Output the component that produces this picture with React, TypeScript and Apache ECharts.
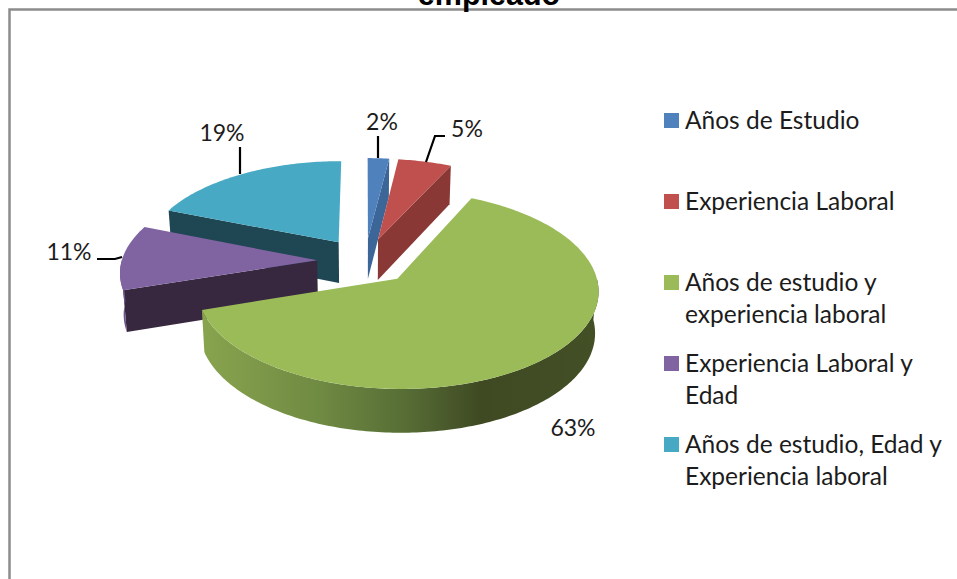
import React, { useEffect, useRef } from "react";
import * as echarts from "echarts";

const chartTitle = "empleado";
const categories = [
  "Años de Estudio",
  "Experiencia Laboral",
  "Años de estudio y experiencia laboral",
  "Experiencia Laboral y Edad",
  "Años de estudio, Edad y Experiencia laboral",
];
const legendLines = [
  " \nAños de Estudio\n ",
  " \nExperiencia Laboral\n ",
  " \nAños de estudio y\nexperiencia laboral",
  " \nExperiencia Laboral y\nEdad",
  " \nAños de estudio, Edad y\nExperiencia laboral",
];
const percentages = [2, 5, 63, 11, 19];

const topColors = ["#4F81BD", "#C0504D", "#9BBB59", "#8064A2", "#48A9C4"];
const sideColors = ["#3C6598", "#8A3836", "#3F4A23", "#372840", "#1F4653"];
const drawOrder = [2, 3, 6, 5, 1]; // z per slice: back to front

const FONT = "Lato";
const CX = 365, CY = 261, RX = 195.5, RY = 94, PERSP = 0.11, DEPTH = 41, EXPLODE = 0.245, FLOOR_SCALE = 0.985;

// label centre + leader polyline for each slice
const labelLayout: { x: number; y: number; line: number[][] | null }[] = [
  { x: 382, y: 121, line: [[378, 136], [378, 158]] },
  { x: 467, y: 128, line: [[445, 136], [435, 136], [426, 162]] },
  { x: 573, y: 427, line: null },
  { x: 69, y: 251, line: [[97, 259], [115, 259], [122, 257]] },
  { x: 222, y: 132, line: [[240, 147], [240, 174]] },
];

const total = percentages.reduce((a, b) => a + b, 0);
const rad = (d: number) => (d * Math.PI) / 180;

function sliceAngles(i: number) {
  const before = percentages.slice(0, i).reduce((a, b) => a + b, 0);
  return [(before / total) * 360, ((before + percentages[i]) / total) * 360];
}

function renderSlice(i: number) {
  return () => {
    const [a0, a1] = sliceAngles(i);
    const mid = rad((a0 + a1) / 2);
    const ou = EXPLODE * Math.sin(mid);
    const ov = EXPLODE * Math.cos(mid);
    const top = (u: number, v: number) => {
      const uu = u + ou, vv = v + ov, d = 1 + PERSP * vv;
      return [CX + (RX * uu) / d, CY - (RY * vv) / d];
    };
    const bottom = (u: number, v: number) => {
      const p = top(u, v);
      return [CX + (p[0] - CX) * FLOOR_SCALE, p[1] + DEPTH / (1 + 0.5 * PERSP * (v + ov))];
    };
    const rim = (from: number, to: number, fn: typeof top) => {
      const pts: number[][] = [];
      const n = Math.max(2, Math.ceil(Math.abs(to - from)));
      for (let k = 0; k <= n; k++) {
        const a = rad(from + ((to - from) * k) / n);
        pts.push(fn(Math.sin(a), Math.cos(a)));
      }
      return pts;
    };
    const children: any[] = [];
    const side = sideColors[i];
    const radial = (a: number) => {
      const s = Math.sin(rad(a)), c = Math.cos(rad(a));
      return [top(0, 0), top(s, c), bottom(s, c), bottom(0, 0)];
    };
    if (Math.sin(rad(a0)) < -0.01)
      children.push({ type: "polygon", shape: { points: radial(a0) }, style: { fill: side } });
    if (Math.sin(rad(a1)) > 0.01)
      children.push({ type: "polygon", shape: { points: radial(a1) }, style: { fill: side } });
    const f0 = Math.max(a0, 90), f1 = Math.min(a1, 270);
    if (f1 > f0) {
      const fill =
        i === 2
          ? new echarts.graphic.LinearGradient(0, 0, 1, 0, [
              { offset: 0, color: "#89A44E" },
              { offset: 0.3, color: "#6F8A42" },
              { offset: 0.52, color: "#566C35" },
              { offset: 0.7, color: "#3F4A23" },
              { offset: 1, color: "#434F25" },
            ])
          : i === 3
          ? "#6A5488"
          : side;
      children.push({
        type: "polygon",
        shape: { points: [...rim(f0, f1, top), ...rim(f1, f0, bottom)] },
        style: { fill },
      });
    }
    children.push({
      type: "polygon",
      shape: { points: [top(0, 0), ...rim(a0, a1, top)] },
      style: { fill: topColors[i] },
    });
    const lay = labelLayout[i];
    if (lay.line)
      children.push({
        type: "polyline",
        shape: { points: lay.line },
        style: { stroke: "#000", lineWidth: 2.2, fill: null },
      });
    children.push({
      type: "text",
      style: {
        text: `${percentages[i]}%`,
        x: lay.x,
        y: lay.y,
        align: "center",
        verticalAlign: "middle",
        fill: "#1c1c1c",
        fontFamily: FONT,
        fontSize: 23,
      },
    });
    return { type: "group", children };
  };
}

export default function App() {
  const ref = useRef<HTMLDivElement>(null);
  useEffect(() => {
    const chart = echarts.init(ref.current!, undefined, { renderer: "svg" });
    chart.setOption({
      animation: false,
      backgroundColor: "#ffffff",
      title: {
        text: chartTitle,
        left: 489,
        textAlign: "center",
        top: -22,
        padding: 0,
        textStyle: { fontFamily: "Liberation Sans", fontWeight: "bold", fontSize: 30.5, color: "#000" },
      },
      legend: {
        orient: "vertical",
        left: 664,
        top: 71,
        padding: 0,
        align: "left",
        itemWidth: 16,
        itemHeight: 18,
        itemGap: -15,
        icon: "path://M16 -3L16 -3ZM0 0H15V15H0Z",
        data: categories,
        formatter: (name: string) => legendLines[categories.indexOf(name)],
        selectedMode: false,
        textStyle: {
          fontFamily: FONT,
          fontSize: 24.5,
          lineHeight: 32,
          color: "#1c1c1c",
        },
      },
      graphic: [
        {
          type: "polyline",
          z: 1,
          shape: { points: [[9.5, 579], [9.5, 9.5], [957, 9.5]] },
          style: { stroke: "#8c8c8c", lineWidth: 2.5, fill: null },
        },
      ],
      series: categories.map((name, i) => ({
        type: "custom",
        name,
        coordinateSystem: "none",
        z: drawOrder[i],
        silent: true,
        itemStyle: { color: topColors[i] },
        data: [[percentages[i]]],
        renderItem: renderSlice(i),
      })),
    });
    return () => chart.dispose();
  }, []);
  return <div ref={ref} style={{ position: "absolute", left: 0, top: 0, width: 957, height: 579 }} />;
}
